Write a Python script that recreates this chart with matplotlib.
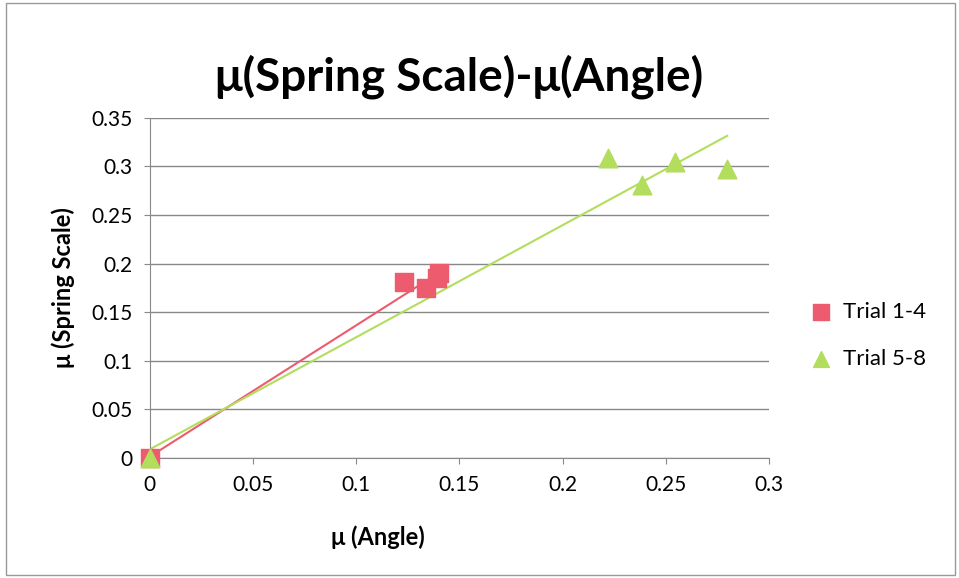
import numpy as np
import matplotlib.pyplot as plt
from matplotlib.patches import Rectangle

# Trial 1-4 (spring scale vs angle)
x_t14 = [0.0, 0.123, 0.134, 0.139, 0.140]
y_t14 = [0.0, 0.181, 0.175, 0.185, 0.190]

# Trial 5-8
x_t58 = [0.0, 0.222, 0.2385, 0.2545, 0.2797]
y_t58 = [0.0, 0.309, 0.281, 0.305, 0.297]

red = '#EC5B6E'
green = '#B3DD5C'

plt.rcParams['font.family'] = ['Lato', 'DejaVu Sans']

fig = plt.figure(figsize=(9.59, 5.78), dpi=100)
ax = fig.add_axes([0.156, 0.2076, 0.646, 0.5884])

# linear trendlines
for xs, ys, c in [(x_t14, y_t14, red), (x_t58, y_t58, green)]:
    k, b = np.polyfit(xs, ys, 1)
    xx = np.array([min(xs), max(xs)])
    ax.plot(xx, k * xx + b, color=c, lw=1.5, zorder=2)

ax.scatter(x_t14, y_t14, marker='s', s=170, color=red, label='Trial 1-4',
           zorder=3, clip_on=False)
ax.scatter(x_t58, y_t58, marker='^', s=180, color=green, label='Trial 5-8',
           zorder=3, clip_on=False)

ax.set_xlim(0, 0.3)
ax.set_ylim(0, 0.35)
ax.set_xticks(np.arange(0, 0.301, 0.05))
ax.set_yticks(np.arange(0, 0.351, 0.05))
ax.set_xticklabels(['0', '0.05', '0.1', '0.15', '0.2', '0.25', '0.3'])
ax.set_yticklabels(['0', '0.05', '0.1', '0.15', '0.2', '0.25', '0.3', '0.35'])
ax.tick_params(labelsize=15, length=4, color='#888888', pad=8)
ax.yaxis.grid(True, color='#888888', lw=1)
ax.set_axisbelow(True)
for s in ['top', 'right']:
    ax.spines[s].set_visible(False)
for s in ['left', 'bottom']:
    ax.spines[s].set_color('#888888')

ax.set_xlabel('μ (Angle)', fontsize=17, fontweight='bold')
ax.xaxis.set_label_coords(0.368, -0.232)
ax.xaxis.label.set_va('center')
ax.set_ylabel('μ (Spring Scale)', fontsize=17, fontweight='bold', labelpad=12)
ax.set_title('μ(Spring Scale)-μ(Angle)', fontsize=33, fontweight='bold', pad=20)

ax.legend(loc='center left', bbox_to_anchor=(1.015, 0.36), frameon=False,
          fontsize=16, handletextpad=0.0, labelspacing=1.2, markerscale=0.85)

fig.patches.append(Rectangle((0.006, 0.006), 0.99, 0.988, transform=fig.transFigure,
                             fill=False, edgecolor='#999999', lw=1))

plt.savefig('out.png', dpi=100)
